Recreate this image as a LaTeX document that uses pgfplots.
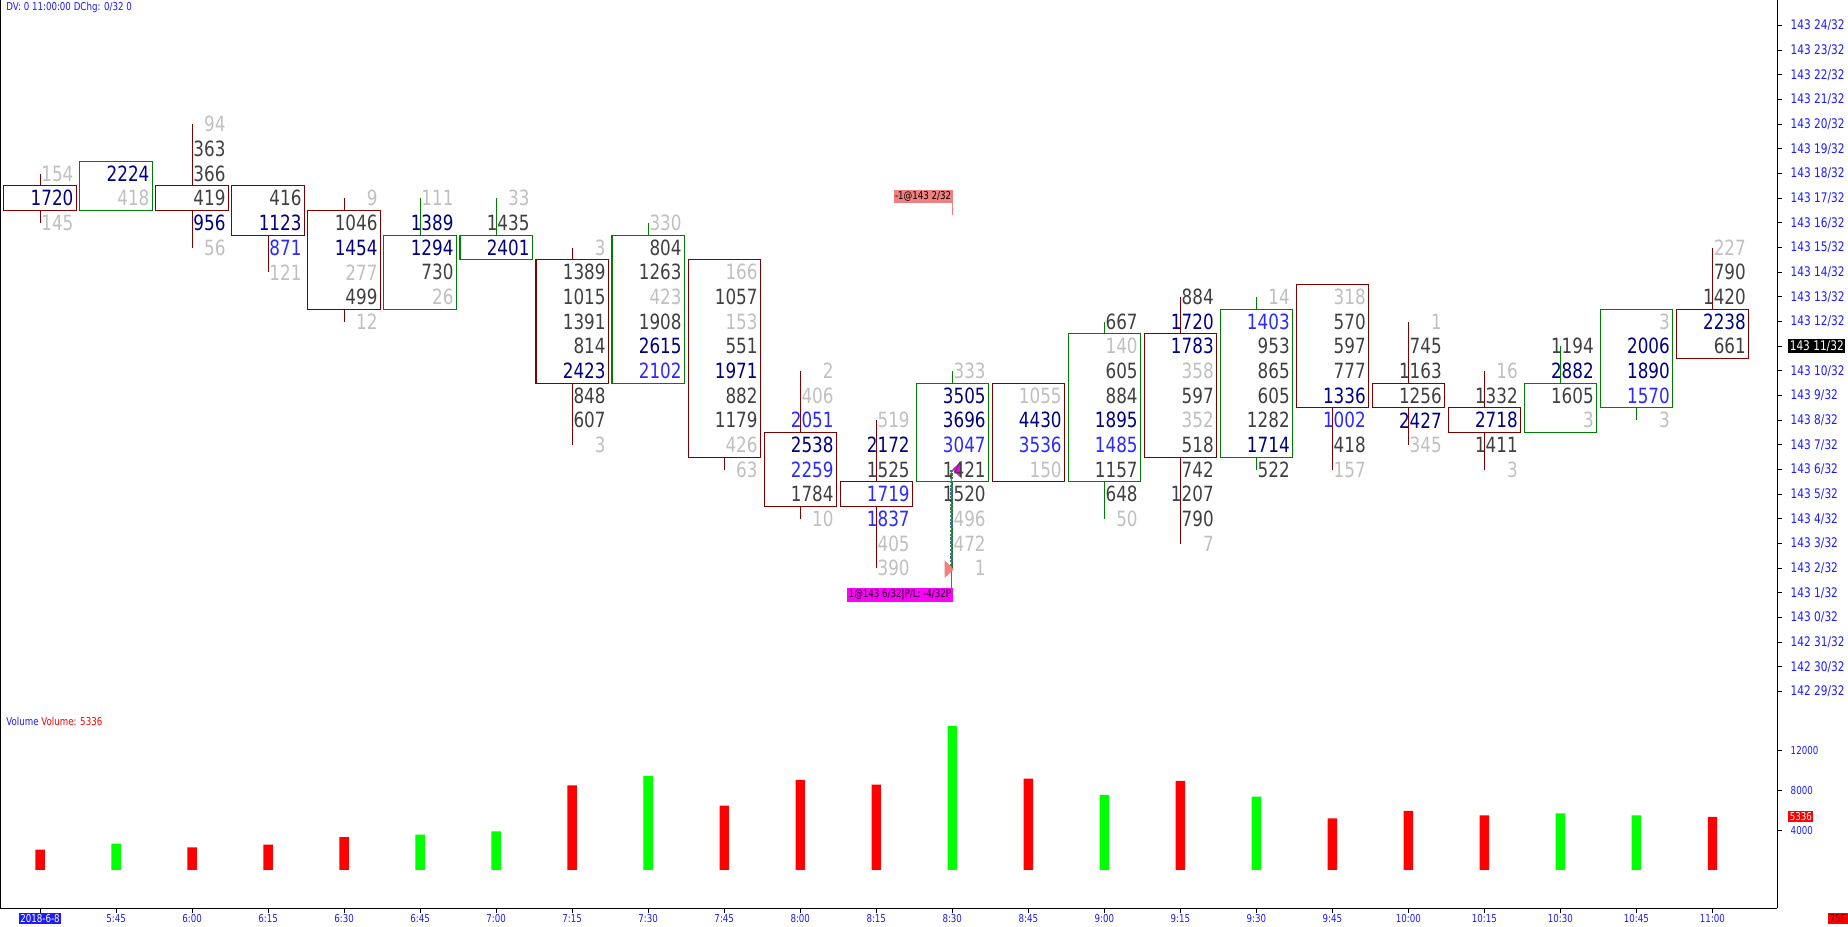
\documentclass[border=0pt]{standalone}
\usepackage{fontspec}
\setmainfont{DejaVu Sans}[FakeStretch=0.8]
\usepackage{pgfplots}
\usepackage{pgfplotstable}
\pgfplotsset{compat=1.18}
\usepgfplotslibrary{statistics}

\definecolor{lg}{HTML}{C0C0C0}
\definecolor{dg}{HTML}{404040}
\definecolor{nv}{HTML}{000080}
\definecolor{bl}{HTML}{2B2BFF}
\definecolor{cr}{HTML}{800000}
\definecolor{cg}{HTML}{008000}
\definecolor{ax}{HTML}{1C1CFF}
\definecolor{vred}{HTML}{FF0000}
\definecolor{vgrn}{HTML}{00FF00}
\definecolor{salmon}{HTML}{F08080}
\definecolor{trade}{HTML}{3C786E}
\definecolor{mag}{HTML}{FF00FF}

\newcommand\fpf{\fontsize{8.9}{10}\selectfont}
\newcommand\tkf{\fontsize{5.6}{6}\selectfont}
\newcommand\smf{\fontsize{4.6}{5}\selectfont}

% footprint: bar index, price level (32nds above 143), volume,
% colour class (0 light grey, 1 dark grey, 2 navy, 3 blue)
\pgfplotstableread{
x y v c
0 18 154 0
0 17 1720 2
0 16 145 0
1 18 2224 2
1 17 418 0
2 20 94 0
2 19 363 1
2 18 366 1
2 17 419 1
2 16 956 2
2 15 56 0
3 17 416 1
3 16 1123 2
3 15 871 3
3 14 121 0
4 17 9 0
4 16 1046 1
4 15 1454 2
4 14 277 0
4 13 499 1
4 12 12 0
5 17 111 0
5 16 1389 2
5 15 1294 2
5 14 730 1
5 13 26 0
6 17 33 0
6 16 1435 1
6 15 2401 2
7 15 3 0
7 14 1389 1
7 13 1015 1
7 12 1391 1
7 11 814 1
7 10 2423 2
7 9 848 1
7 8 607 1
7 7 3 0
8 16 330 0
8 15 804 1
8 14 1263 1
8 13 423 0
8 12 1908 1
8 11 2615 2
8 10 2102 3
9 14 166 0
9 13 1057 1
9 12 153 0
9 11 551 1
9 10 1971 2
9 9 882 1
9 8 1179 1
9 7 426 0
9 6 63 0
10 10 2 0
10 9 406 0
10 8 2051 3
10 7 2538 2
10 6 2259 3
10 5 1784 1
10 4 10 0
11 8 519 0
11 7 2172 2
11 6 1525 1
11 5 1719 3
11 4 1837 3
11 3 405 0
11 2 390 0
12 10 333 0
12 9 3505 2
12 8 3696 2
12 7 3047 3
12 6 1421 1
12 5 1520 1
12 4 496 0
12 3 472 0
12 2 1 0
13 9 1055 0
13 8 4430 2
13 7 3536 3
13 6 150 0
14 12 667 1
14 11 140 0
14 10 605 1
14 9 884 1
14 8 1895 2
14 7 1485 3
14 6 1157 1
14 5 648 1
14 4 50 0
15 13 884 1
15 12 1720 2
15 11 1783 2
15 10 358 0
15 9 597 1
15 8 352 0
15 7 518 1
15 6 742 1
15 5 1207 1
15 4 790 1
15 3 7 0
16 13 14 0
16 12 1403 3
16 11 953 1
16 10 865 1
16 9 605 1
16 8 1282 1
16 7 1714 2
16 6 522 1
17 13 318 0
17 12 570 1
17 11 597 1
17 10 777 1
17 9 1336 2
17 8 1002 3
17 7 418 1
17 6 157 0
18 12 1 0
18 11 745 1
18 10 1163 1
18 9 1256 1
18 8 2427 2
18 7 345 0
19 10 16 0
19 9 1332 1
19 8 2718 2
19 7 1411 1
19 6 3 0
20 11 1194 1
20 10 2882 2
20 9 1605 1
20 8 3 0
21 12 3 0
21 11 2006 2
21 10 1890 2
21 9 1570 3
21 8 3 0
22 15 227 0
22 14 790 1
22 13 1420 1
22 12 2238 2
22 11 661 1
}\fp

% candle: colour, position, low, box bottom, box top, high
\newcommand\candle[6]{\addplot[#1, line width=0.45pt, boxplot prepared={draw direction=y, draw position=#2, lower whisker=#3, lower quartile=#4, median=#4, upper quartile=#5, upper whisker=#6, box extend=0.952, whisker extend=0}] coordinates {};}
% footprint numbers of one colour class
\newcommand\fpnums[2]{\addplot[draw=none, mark=none, point meta=explicit symbolic,
  restrict expr to domain={\thisrow{c}}{#1:#1},
  nodes near coords,
  nodes near coords style={anchor=east, inner sep=0pt, xshift=14.35pt, text=#2, font=\fpf}]
  table[x=x, y=y, meta=v] {\fp};}

\begin{document}
\begin{tikzpicture}
\useasboundingbox (0,0) rectangle (784pt,-393pt);
\fill[white] (0,0) rectangle (784pt,-393pt);

\begin{axis}[
  at={(0pt,0pt)}, anchor=north west, scale only axis,
  width=754pt, height=300pt,
  xmin=-0.527, xmax=22.853, ymin=-3.631, ymax=25.035,
  axis x line=none, axis y line*=right,
  axis line style={black, line width=0.5pt},
  xtick=\empty,
  ytick={-3,...,24},
  yticklabels={142 29/32,142 30/32,142 31/32,143 0/32,143 1/32,143 2/32,143 3/32,143 4/32,143 5/32,143 6/32,143 7/32,143 8/32,143 9/32,143 10/32,,143 12/32,143 13/32,143 14/32,143 15/32,143 16/32,143 17/32,143 18/32,143 19/32,143 20/32,143 21/32,143 22/32,143 23/32,143 24/32},
  yticklabel style={font=\tkf, text=ax, anchor=west, inner sep=0pt, xshift=3.5pt},
  tick align=outside, major tick length=2pt,
  ytick style={black, line width=0.4pt},
  clip=false,
]
\draw[black, line width=0.5pt] (rel axis cs:0,0) -- (rel axis cs:0,1);

\candle{cr}{0}{16}{16.5}{17.5}{18}
\candle{cg}{1}{16.5}{16.5}{18.5}{18.5}
\candle{cr}{2}{15}{16.5}{17.5}{20}
\candle{cr}{3}{14}{15.5}{17.5}{17.5}
\candle{cr}{4}{12}{12.5}{16.5}{17}
\candle{cg}{5}{12.5}{12.5}{15.5}{17}
\candle{cg}{6}{14.5}{14.5}{15.5}{17}
\candle{cr}{7}{7}{9.5}{14.5}{15}
\candle{cg}{8}{9.5}{9.5}{15.5}{16}
\candle{cr}{9}{6}{6.5}{14.5}{14.5}
\candle{cr}{10}{4}{4.5}{7.5}{10}
\candle{cr}{11}{2}{4.5}{5.5}{8}
\candle{cg}{12}{2}{5.5}{9.5}{10}
\candle{cr}{13}{5.5}{5.5}{9.5}{9.5}
\candle{cg}{14}{4}{5.5}{11.5}{12}
\candle{cr}{15}{3}{6.5}{11.5}{13}
\candle{cg}{16}{6}{6.5}{12.5}{13}
\candle{cr}{17}{6}{8.5}{13.5}{13.5}
\candle{cr}{18}{7}{8.5}{9.5}{12}
\candle{cr}{19}{6}{7.5}{8.5}{10}
\candle{cg}{20}{7.5}{7.5}{9.5}{11}
\candle{cg}{21}{8}{8.5}{12.5}{12.5}
\candle{cr}{22}{10.5}{10.5}{12.5}{15}

% trade markers
\addplot[mag, line width=0.4pt] coordinates {(11.99,6) (11.99,1.15)};
\addplot[trade, line width=1.2pt, dash pattern=on 1pt off 0.6pt] coordinates {(11.985,6) (11.985,2)};
\addplot[salmon, line width=0.4pt] coordinates {(12,16.82) (12,16.32)};
\addplot[mag, only marks, mark=triangle*, mark size=3.8pt, mark options={fill=mag, draw=none, xscale=0.6, rotate=90}] coordinates {(12.08,6)};
\addplot[salmon, only marks, mark=triangle*, mark size=3.8pt, mark options={fill=salmon, draw=none, xscale=0.6, rotate=-90}] coordinates {(11.94,1.96)};

\fpnums{0}{lg}
\fpnums{1}{dg}
\fpnums{2}{nv}
\fpnums{3}{bl}

\node[fill=salmon, text=black, font=\smf, anchor=east, inner sep=0.6pt] at (axis cs:12.01,17.06) {-1@143 2/32};
\node[fill=mag, text=black, font=\smf, anchor=east, inner sep=0.6pt] at (axis cs:12.01,0.91) {1@143 6/32|P/L: -4/32P};
\node[fill=black, text=white, font=\tkf, anchor=west, inner sep=0.6pt, xshift=4.5pt] at (axis cs:22.853,11) {143 11/32};
\end{axis}

\begin{axis}[
  at={(0pt,-300pt)}, anchor=north west, scale only axis,
  width=754pt, height=85.25pt,
  xmin=-0.527, xmax=22.853, ymin=-3855, ymax=16370,
  axis x line*=bottom, axis y line*=right,
  axis line style={black, line width=0.5pt},
  xtick={0,...,22},
  xticklabels={,5:45,6:00,6:15,6:30,6:45,7:00,7:15,7:30,7:45,8:00,8:15,8:30,8:45,9:00,9:15,9:30,9:45,10:00,10:15,10:30,10:45,11:00},
  ytick={4000,8000,12000},
  yticklabels={4000,8000,12000},
  scaled y ticks=false,
  tick label style={font=\smf, text=ax},
  xticklabel style={inner sep=0.5pt},
  yticklabel style={anchor=west, inner sep=0pt, xshift=3.5pt},
  tick align=outside, major tick length=2pt,
  tick style={black, line width=0.4pt},
  clip=false,
]
\draw[black, line width=0.5pt] (rel axis cs:0,0) -- (rel axis cs:0,1);
\addplot[ybar, bar width=4pt, bar shift=0pt, fill=vred, draw=none] coordinates {
(0,2019) (2,2254) (3,2531) (4,3297) (7,8493) (9,6448) (10,9050) (11,8567)
(13,9171) (15,8958) (17,5175) (18,5937) (19,5480) (22,5336)};
\addplot[ybar, bar width=4pt, bar shift=0pt, fill=vgrn, draw=none] coordinates {
(1,2642) (5,3550) (6,3869) (8,9445) (12,14491) (14,7531) (16,7358) (20,5684) (21,5472)};
\node[fill=vred, text=white, font=\smf, anchor=west, inner sep=0.6pt, xshift=4.5pt] at (axis cs:22.853,5336) {5336};
\end{axis}

\node[anchor=west, font=\smf, text=ax, inner sep=0pt] at (2.5pt,-3pt) {DV: 0 11:00:00 DChg: 0/32 0};
\node[anchor=west, font=\smf, inner sep=0pt] at (2.5pt,-306pt) {\textcolor{ax}{Volume} \textcolor{vred}{Volume: 5336}};
\node[fill=ax, text=white, font=\smf, inner sep=0.6pt] at (17pt,-389.5pt) {2018-6-8};
\node[fill=vred, text=cr, font=\smf, anchor=east, inner sep=0.6pt] at (784pt,-389.75pt) {75E};
\end{tikzpicture}
\end{document}
